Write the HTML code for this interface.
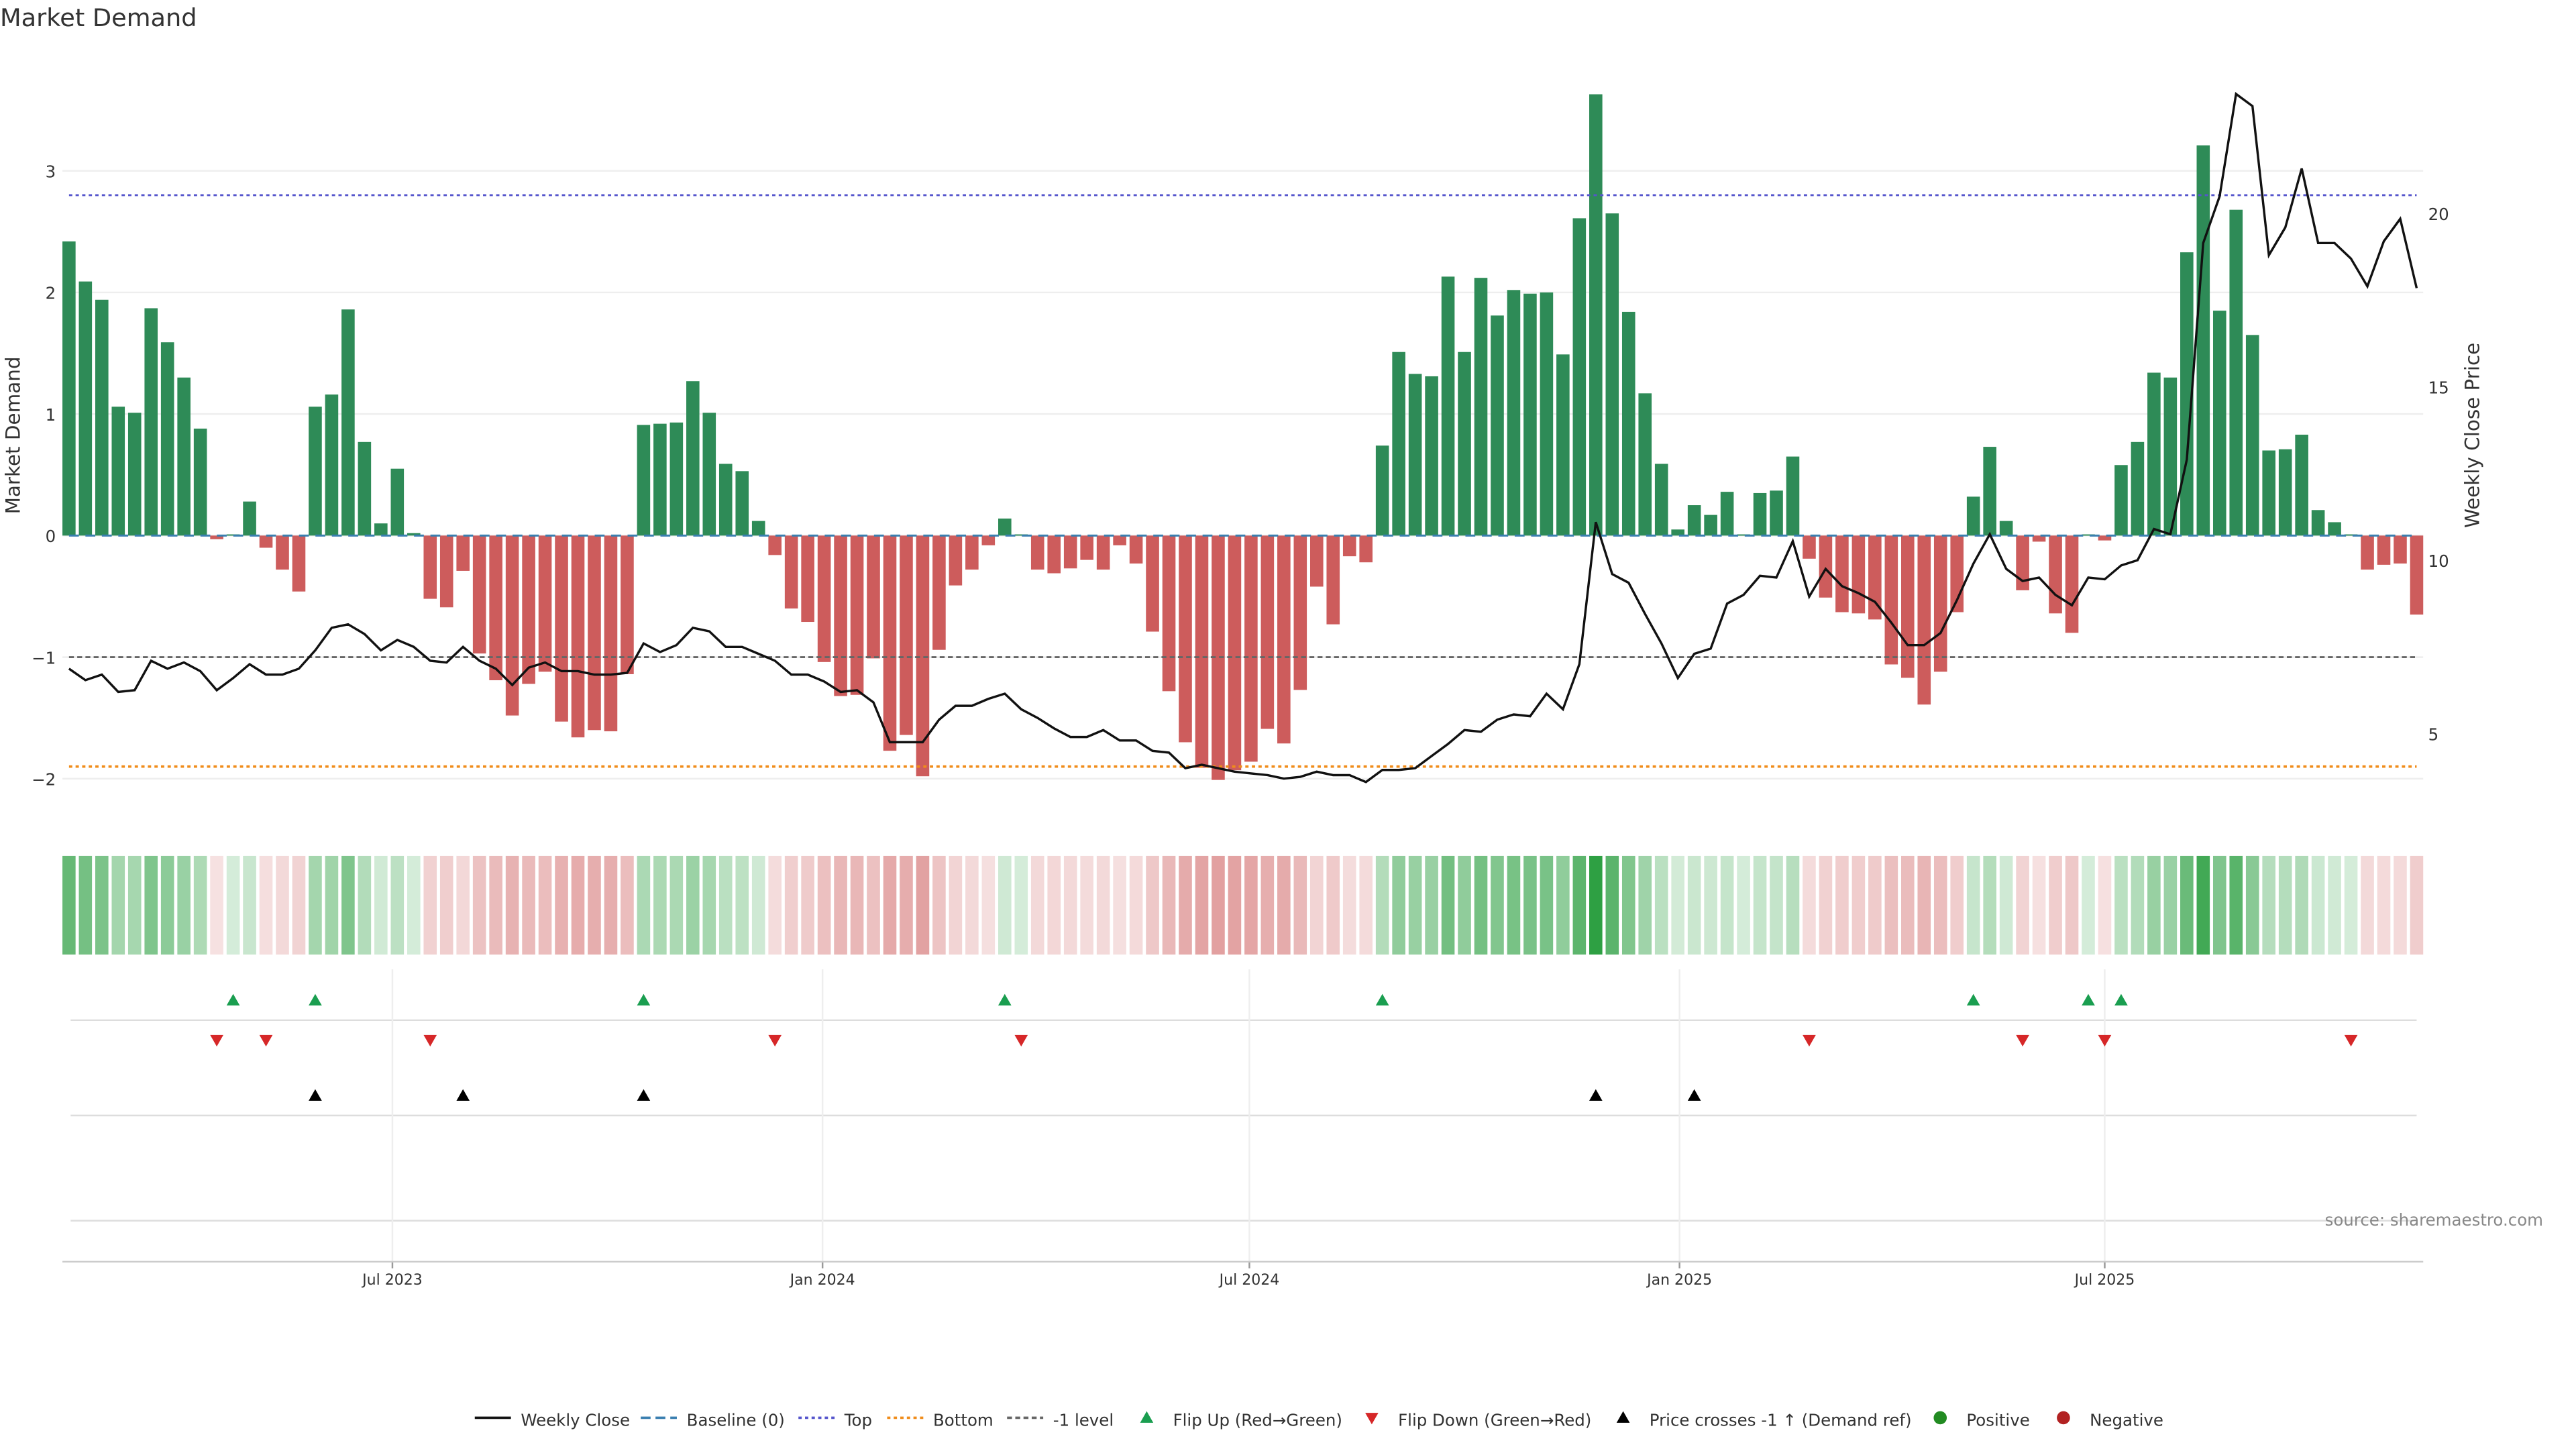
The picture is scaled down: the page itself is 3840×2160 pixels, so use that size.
<!DOCTYPE html>
<html><head><meta charset="utf-8"><style>
html,body{margin:0;padding:0;background:#fff;}
svg{display:block;font-family:"DejaVu Sans","Liberation Sans",sans-serif;}
</style></head><body>
<svg id="chart" width="3840" height="2160" viewBox="0 0 1568 882" preserveAspectRatio="none" xmlns="http://www.w3.org/2000/svg">
<text x="0" y="16" font-size="15" fill="#333">Market Demand</text>
<g id="grid"></g><g id="bars"></g><g id="lines"></g><g id="heat"></g><g id="events"></g><g id="axes"></g>
<text x="12" y="265" font-size="12" fill="#333" text-anchor="middle" transform="rotate(-90 12 265)">Market Demand</text>
<text x="1509" y="265" font-size="12" fill="#333" text-anchor="middle" transform="rotate(-90 1509 265)">Weekly Close Price</text>
<text x="1548" y="746" font-size="10" fill="#888" text-anchor="end">source: sharemaestro.com</text>
<g id="legend"></g>
</svg>
<script>
const demand=[2.42,2.09,1.94,1.06,1.01,1.87,1.59,1.30,0.88,-0.03,0.01,0.28,-0.10,-0.28,-0.46,1.06,1.16,1.86,0.77,0.10,0.55,0.02,-0.52,-0.59,-0.29,-0.97,-1.19,-1.48,-1.22,-1.12,-1.53,-1.66,-1.60,-1.61,-1.14,0.91,0.92,0.93,1.27,1.01,0.59,0.53,0.12,-0.16,-0.60,-0.71,-1.04,-1.32,-1.31,-1.01,-1.77,-1.64,-1.98,-0.94,-0.41,-0.28,-0.08,0.14,0.01,-0.28,-0.31,-0.27,-0.20,-0.28,-0.08,-0.23,-0.79,-1.28,-1.70,-1.91,-2.01,-1.93,-1.86,-1.59,-1.71,-1.27,-0.42,-0.73,-0.17,-0.22,0.74,1.51,1.33,1.31,2.13,1.51,2.12,1.81,2.02,1.99,2.00,1.49,2.61,3.63,2.65,1.84,1.17,0.59,0.05,0.25,0.17,0.36,0.01,0.35,0.37,0.65,-0.19,-0.51,-0.63,-0.64,-0.69,-1.06,-1.17,-1.39,-1.12,-0.63,0.32,0.73,0.12,-0.45,-0.05,-0.64,-0.80,0.01,-0.04,0.58,0.77,1.34,1.30,2.33,3.21,1.85,2.68,1.65,0.70,0.71,0.83,0.21,0.11,0.01,-0.28,-0.24,-0.23,-0.65];
const close=[6.87,6.54,6.7,6.2,6.25,7.1,6.87,7.05,6.8,6.25,6.6,7.0,6.7,6.7,6.87,7.4,8.05,8.15,7.87,7.4,7.7,7.5,7.1,7.05,7.5,7.1,6.87,6.4,6.9,7.05,6.8,6.8,6.7,6.7,6.75,7.6,7.35,7.55,8.05,7.95,7.5,7.5,7.3,7.1,6.7,6.7,6.5,6.2,6.25,5.9,4.75,4.75,4.75,5.4,5.8,5.8,6.0,6.15,5.7,5.45,5.15,4.9,4.9,5.1,4.8,4.8,4.5,4.45,4.0,4.1,4.0,3.9,3.85,3.8,3.7,3.75,3.9,3.8,3.8,3.6,3.95,3.95,4.0,4.35,4.7,5.1,5.05,5.4,5.55,5.5,6.15,5.7,7.0,11.1,9.6,9.35,8.45,7.6,6.6,7.3,7.45,8.75,9.0,9.55,9.5,10.55,8.95,9.75,9.25,9.05,8.8,8.2,7.55,7.55,7.9,8.85,9.9,10.75,9.75,9.4,9.5,9.0,8.7,9.5,9.45,9.85,10.0,10.9,10.75,12.9,19.15,20.5,23.45,23.1,18.8,19.6,21.3,19.15,19.15,18.7,17.9,19.2,19.85,17.85];
const flipUp=[10,15,35,57,80,116,123,125];
const flipDown=[9,12,22,43,58,106,119,124,139];
const crossUp=[15,24,35,93,99];
const yTicks=[-2,-1,0,1,2,3];
const priceTicks=[5,10,15,20];
const dateLabels=["Jul 2023","Jan 2024","Jul 2024","Jan 2025","Jul 2025"];
const dateIdx=[19.7,45.9,71.9,98.1,124.0];
const levels={top:2.8,bottom:-1.9,neg:-1};

const NS="http://www.w3.org/2000/svg";
function mk(tag,attrs,parent){const e=document.createElementNS(NS,tag);for(const k in attrs)e.setAttribute(k,attrs[k]);parent.appendChild(e);return e;}
const X=i=>42+i*(1471-42)/143;
const Y=v=>326-v*74;
const P=p=>341-(p-10)*21.1;
const g=id=>document.getElementById(id);
const L=38,R=1475;
yTicks.forEach(t=>{
 const l=mk('line',{x1:L,x2:R,y1:Y(t),y2:Y(t),stroke:'#eee','stroke-width':1},g('grid'));
 
 
 const tx=mk('text',{x:34,y:Y(t)+4,'font-size':10,fill:'#333','text-anchor':'end'},g('axes'));
 tx.textContent=(t<0?'\u2212'+(-t):t);
 
 
});
priceTicks.forEach(t=>{
 const tx=mk('text',{x:1478,y:P(t)+4,'font-size':10,fill:'#333'},g('axes'));
 tx.textContent=t;
 
 
});
const bw=8;
demand.forEach((v,i)=>{
 const y0=Y(0),y1=Y(v);
 const r=mk('rect',{x:X(i)-bw/2,y:Math.min(y0,y1),width:bw,height:Math.max(Math.abs(y1-y0),0.8),fill:v>=0?'#2e8b57':'#cd5c5c'},g('bars'));
 
 
});
function hl(v,col,dash,name,w){const l=mk('line',{x1:42,x2:1471,y1:Y(v),y2:Y(v),stroke:col,'stroke-width':w||1.2,'stroke-dasharray':dash},g('lines'));
 
 }
hl(levels.top,'#5555cc','2 2','top-line');
hl(levels.bottom,'#f08c1a','2 2','bottom-line',1.5);
hl(levels.neg,'#666','3 2','minus-one-line');
hl(0,'#3a7fb0','6 4','baseline-line');
const pl=mk('polyline',{points:close.map((p,i)=>X(i)+','+P(p)).join(' '),fill:'none',stroke:'#111','stroke-width':1.4},g('lines'));


const mx=Math.max(...demand.map(Math.abs));
demand.forEach((v,i)=>{
 const a=0.2+0.8*Math.abs(v)/mx;
 const c=v>=0?`rgba(46,160,67,${a})`:`rgba(205,92,92,${a*0.9})`;
 const r=mk('rect',{x:X(i)-bw/2,y:521,width:bw,height:60,fill:c},g('heat'));
 
 
});
[621,679,743].forEach(y=>{const l=mk('line',{x1:43,x2:1471,y1:y,y2:y,stroke:'#ddd','stroke-width':1},g('events'));
 
 });
dateIdx.forEach((d,k)=>{
 const x=X(d);
 const l=mk('line',{x1:x,x2:x,y1:590,y2:768,stroke:'#eee','stroke-width':1},g('events'));
 
 
 const tk=mk('line',{x1:x,x2:x,y1:768,y2:772,stroke:'#999'},g('axes'));
 
 
 const t=mk('text',{x:x,y:782,'font-size':9,fill:'#333','text-anchor':'middle'},g('axes'));
 t.textContent=dateLabels[k];
 
 
});
const ax=mk('line',{x1:L,x2:R,y1:768,y2:768,stroke:'#ccc'},g('axes'));


function tri(x,y,up,col,name,parent){const s=4;
 const p=up?`${x-s},${y+3} ${x+s},${y+3} ${x},${y-4}`:`${x-s},${y-3} ${x+s},${y-3} ${x},${y+4}`;
 const e=mk('polygon',{points:p,fill:col},parent);
 
 }
flipUp.forEach(i=>tri(X(i),609,true,'#1a9e50','flip-up-marker',g('events')));
flipDown.forEach(i=>tri(X(i),633,false,'#d62728','flip-down-marker',g('events')));
crossUp.forEach(i=>tri(X(i),667,true,'#000','price-cross-marker',g('events')));
const lg=g('legend');const ly=867;
const items=[['line','#111','',289,'Weekly Close'],['line','#3a7fb0','6 3',390,'Baseline (0)'],['line','#5555cc','2 2',486,'Top'],['line','#f08c1a','2 2',540,'Bottom'],['line','#666','3 2',613,'-1 level'],['up','#1a9e50','',698,'Flip Up (Red\u2192Green)'],['down','#d62728','',835,'Flip Down (Green\u2192Red)'],['up','#000','',988,'Price crosses -1 \u2191 (Demand ref)'],['dot','#228b22','',1181,'Positive'],['dot','#b22222','',1256,'Negative']];
items.forEach(it=>{
 const [t,c,d,lx,label]=it;let tx;
 if(t==='line'){const l=mk('line',{x1:lx,x2:lx+22,y1:ly-4,y2:ly-4,stroke:c,'stroke-width':1.5,'stroke-dasharray':d},lg);
  
  tx=lx+28;}
 else if(t==='dot'){const e=mk('circle',{cx:lx,cy:ly-4,r:4,fill:c},lg);
  
  tx=lx+16;}
 else{tri(lx,ly-4,t==='up',c,'legend-swatch',lg);tx=lx+16;}
 const te=mk('text',{x:tx,y:ly+1,'font-size':10,fill:'#333'},lg);
 te.textContent=label;
 
 
});
</script>
</body></html>
